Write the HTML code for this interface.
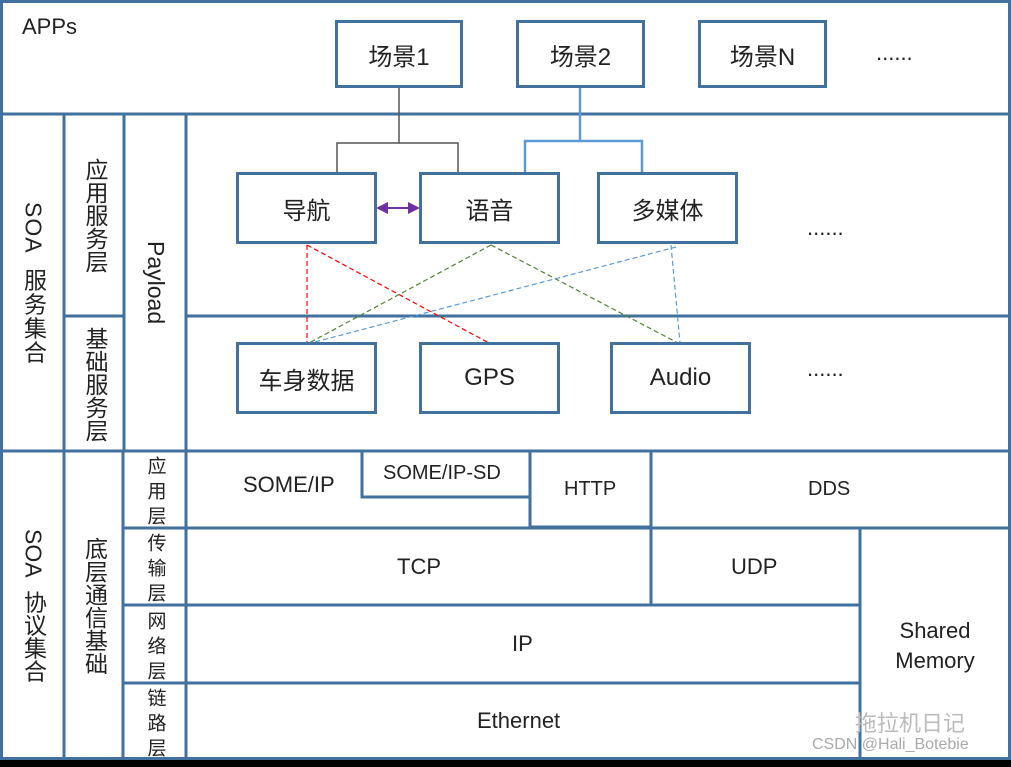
<!DOCTYPE html>
<html><head><meta charset="utf-8"><style>
html,body{margin:0;padding:0;background:#000;}
#c{position:relative;width:1011px;height:760px;background:#fff;overflow:hidden;font-family:"Liberation Sans","Noto Sans CJK SC",sans-serif;color:#222;}
.b{position:absolute;box-sizing:border-box;border:3px solid #41719c;background:#fff;display:flex;align-items:center;justify-content:center;font-size:24px;}
.t{position:absolute;font-size:22px;white-space:nowrap;}
.v{position:absolute;writing-mode:vertical-rl;font-size:23px;display:flex;align-items:center;justify-content:center;line-height:1;}
.s{font-size:19px;letter-spacing:6px;}
</style></head><body><div id="c">
<svg width="1011" height="760" style="position:absolute;left:0;top:0">
<g fill="none" stroke="#41719c" stroke-width="3">
<rect x="1.5" y="1.5" width="1008" height="757"/>
<line x1="0" y1="114" x2="1011" y2="114"/>
<line x1="0" y1="451" x2="1011" y2="451"/>
<line x1="64" y1="114" x2="64" y2="760"/>
<line x1="124" y1="114" x2="124" y2="451"/>
<line x1="123" y1="451" x2="123" y2="760"/>
<line x1="186" y1="114" x2="186" y2="760"/>
<line x1="64" y1="316" x2="124" y2="316"/>
<line x1="186" y1="316" x2="1011" y2="316"/>
<line x1="123" y1="528" x2="1011" y2="528"/>
<line x1="123" y1="605" x2="860" y2="605"/>
<line x1="123" y1="683" x2="860" y2="683"/>
<line x1="651" y1="451" x2="651" y2="605"/>
<line x1="860" y1="528" x2="860" y2="760"/>
<rect x="362" y="451" width="168" height="46"/>
<rect x="530" y="451" width="121" height="76"/>
</g>
<g fill="none" stroke="#555" stroke-width="1.5">
<polyline points="399,87 399,143 337,143 337,173"/>
<polyline points="399,143 458,143 458,173"/>
</g>
<g fill="none" stroke="#5b9bd5" stroke-width="2.5">
<polyline points="580,87 580,141 525,141 525,173"/>
<polyline points="580,141 642,141 642,173"/>
</g>
<line x1="386" y1="208" x2="410" y2="208" stroke="#7030a0" stroke-width="2"/>
<polygon points="376,208 388,202 388,214" fill="#7030a0"/>
<polygon points="420,208 408,202 408,214" fill="#7030a0"/>
<g stroke-width="1.2" stroke-dasharray="5,3" fill="none">
<path d="M307,245 L307,343 M307,245 L489,343" stroke="#f00"/>
<path d="M491,245 L309,343 M491,245 L678,343" stroke="#548235"/>
<path d="M676,247 L311,343 M671,245 L680,343" stroke="#5b9bd5"/>
</g>
</svg>
<div class="t" style="left:22px;top:14px;font-size:22px">APPs</div>
<div class="b" style="left:335px;top:20px;width:128px;height:68px">场景1</div>
<div class="b" style="left:516px;top:20px;width:129px;height:68px">场景2</div>
<div class="b" style="left:698px;top:20px;width:129px;height:68px">场景N</div>
<div class="t" style="left:876px;top:40px">......</div>
<div class="b" style="left:236px;top:172px;width:141px;height:72px">导航</div>
<div class="b" style="left:419px;top:172px;width:141px;height:72px">语音</div>
<div class="b" style="left:597px;top:172px;width:141px;height:72px">多媒体</div>
<div class="t" style="left:807px;top:215px">......</div>
<div class="b" style="left:236px;top:342px;width:141px;height:72px">车身数据</div>
<div class="b" style="left:419px;top:342px;width:141px;height:72px">GPS</div>
<div class="b" style="left:610px;top:342px;width:141px;height:72px">Audio</div>
<div class="t" style="left:807px;top:356px">......</div>
<div class="v" style="left:3px;top:116px;width:60px;height:334px;letter-spacing:1px">SOA&nbsp;&nbsp;服务集合</div>
<div class="v" style="left:66px;top:116px;width:57px;height:199px">应用服务层</div>
<div class="v" style="left:66px;top:318px;width:57px;height:132px">基础服务层</div>
<div class="v" style="left:126px;top:116px;width:59px;height:334px">Payload</div>
<div class="v" style="left:3px;top:453px;width:60px;height:306px">SOA&nbsp;&nbsp;协议集合</div>
<div class="v" style="left:66px;top:453px;width:56px;height:306px">底层通信基础</div>
<div class="v s" style="left:125px;top:456px;width:60px;height:75px">应用层</div>
<div class="v s" style="left:125px;top:533px;width:60px;height:75px">传输层</div>
<div class="v s" style="left:125px;top:610px;width:60px;height:76px">网络层</div>
<div class="v s" style="left:125px;top:688px;width:60px;height:75px">链路层</div>
<div class="t" style="left:243px;top:472px">SOME/IP</div>
<div class="t" style="left:383px;top:462px;font-size:20px">SOME/IP-SD</div>
<div class="t" style="left:564px;top:478px;font-size:20px">HTTP</div>
<div class="t" style="left:808px;top:478px;font-size:20px">DDS</div>
<div class="t" style="left:397px;top:554px">TCP</div>
<div class="t" style="left:731px;top:554px">UDP</div>
<div class="t" style="left:512px;top:631px">IP</div>
<div class="t" style="left:477px;top:708px">Ethernet</div>
<div class="t" style="left:872px;top:616px;text-align:center;width:126px;line-height:30px;white-space:normal">Shared Memory</div>
<div class="t" style="left:855px;top:706px;font-size:22px;color:#bbb">拖拉机日记</div>
<div class="t" style="left:812px;top:736px;font-size:16px;color:#aaa">CSDN @Hali_Botebie</div>
</div></body></html>
